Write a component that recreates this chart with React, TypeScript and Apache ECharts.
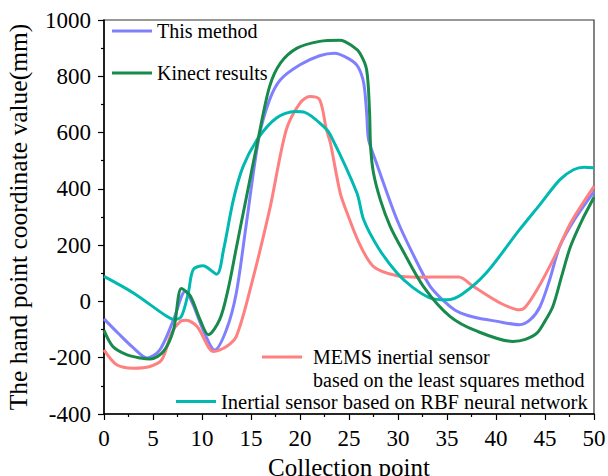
import React, { useEffect, useRef } from "react";
import * as echarts from "echarts";

const blueX = [0, 1.5, 3, 4.4, 5.7, 7.1, 8.3, 9.1, 10.1, 11.3, 12.5, 13.5, 14.5, 15.8, 16.9, 18, 20, 22, 23.5, 25, 25.9, 26.5, 26.8, 27.0, 27.8, 29.9, 31.5, 33.3, 35.3, 36.3, 38, 40, 42.4, 43.5, 44.5, 45.5, 46.5, 48, 50];
const blueY = [-62, -115, -165, -201, -172, -65, 36, -12, -100, -173, -100, 30, 270, 581, 717, 788, 841, 873, 882, 862, 835, 776, 670, 575, 492, 290, 170, 53, -18, -40, -58, -70, -83, -65, -18, 80, 195, 290, 390];

const greenX = [0, 0.9, 2.3, 3.7, 4.7, 6.06, 7.1, 7.9, 8.8, 9.8, 10.65, 11.8, 12.65, 13.5, 14.5, 15.75, 16.9, 18, 19.7, 22, 24.1, 25.4, 26.1, 26.8, 27.1, 27.2, 27.5, 28.2, 29.2, 30.5, 32.6, 35.3, 38, 41.7, 43, 44.2, 45, 45.8, 46.7, 47.6, 48.8, 50];
const greenY = [-103, -160, -189, -201, -205, -178, -100, 46, 20, -65, -118, -65, 41, 190, 365, 581, 764, 847, 900, 924, 928, 906, 883, 823, 670, 551, 456, 361, 267, 180, 53, -53, -105, -142, -135, -112, -70, -18, 90, 195, 290, 370];

const redX = [0, 1.3, 3, 4.7, 5.9, 6.9, 7.8, 8.4, 9.5, 11.2, 12.5, 13.5, 14.9, 16.9, 18.6, 20, 21, 22, 22.7, 23.1, 24.1, 24.8, 26, 27.5, 29.9, 32, 35.3, 36.2, 37.7, 40.4, 42.4, 43, 44.2, 46, 47.6, 50];
const redY = [-172, -225, -237, -231, -207, -112, -71, -67, -89, -178, -160, -124, 41, 326, 610, 705, 728, 717, 610, 563, 386, 315, 210, 124, 91, 86, 87, 87, 53, -5, -30, -20, 42, 160, 278, 409];

const tealX = [0, 3, 6.4, 7.2, 7.9, 8.6, 9.1, 10.1, 11.5, 12.2, 13.2, 14.2, 15.75, 17.6, 19.5, 20.5, 22.4, 23.1, 25.8, 26.5, 28, 29.9, 31.5, 33.3, 35, 36.5, 39, 42.4, 44.5, 46.5, 47.9, 49, 50];
const tealY = [89, 30, -53, -65, -53, 30, 113, 127, 97, 184, 361, 480, 581, 652, 675, 672, 622, 592, 386, 290, 190, 101, 50, 12, 6, 25, 101, 255, 345, 432, 468, 477, 475];

const seriesNames = [
  "This method",
  "Kinect results",
  "MEMS inertial sensor based on the least squares method",
  "Inertial sensor based on RBF neural network",
];
const colors = ["#8080ff", "#178a4c", "#ff8080", "#00b9b0"];

const zip = (xs: number[], ys: number[]) => xs.map((x, i) => [x, ys[i]]);

const FONT = "Liberation Serif";

export default function App() {
  const ref = useRef<HTMLDivElement>(null);
  useEffect(() => {
    const chart = echarts.init(ref.current!, null, { renderer: "svg" });
    const datas = [zip(blueX, blueY), zip(greenX, greenY), zip(redX, redY), zip(tealX, tealY)];
    const legendBase = {
      orient: "vertical" as const,
      padding: 0,
      icon: "rect",
      itemWidth: 40,
      itemHeight: 3,
      selectedMode: false,
      textStyle: { fontFamily: FONT, fontSize: 20, color: "#000" },
    };
    chart.setOption({
      animation: false,
      backgroundColor: "#fff",
      grid: {
        left: 104,
        top: 20,
        width: 490,
        height: 394,
        containLabel: false,
        outerBoundsMode: "none",
        show: true,
        borderColor: "#333",
        borderWidth: 1.2,
        backgroundColor: "transparent",
      },
      legend: [
        { ...legendBase, data: [seriesNames[0]], left: 112, top: 21 },
        { ...legendBase, data: [seriesNames[1]], left: 112, top: 63 },
        {
          ...legendBase,
          data: [seriesNames[2]],
          left: 262,
          top: 324,
          formatter: () => "{e| }\n{a|MEMS inertial sensor}\n{a|based on the least squares method}",
          textStyle: {
            fontFamily: FONT,
            fontSize: 20,
            color: "#000",
            rich: {
              e: { fontFamily: FONT, fontSize: 20, lineHeight: 23, padding: [0, 0, 0, 6] },
              a: { fontFamily: FONT, fontSize: 20, lineHeight: 23, color: "#000", padding: [0, 0, 0, 6] },
            },
          },
        },
        { ...legendBase, data: [seriesNames[3]], left: 176, top: 391, textStyle: { fontFamily: FONT, fontSize: 20.5, color: "#000" } },
      ],
      xAxis: {
        type: "value",
        min: 0,
        max: 50,
        interval: 5,
        name: "Collection point",
        nameLocation: "middle",
        nameGap: 38,
        nameTextStyle: { fontFamily: FONT, fontSize: 25, color: "#000" },
        axisLine: { onZero: false, lineStyle: { color: "#000", width: 1.5 } },
        axisTick: { length: 6, lineStyle: { color: "#000", width: 1.2 } },
        minorTick: { show: true, splitNumber: 2, length: 3, lineStyle: { color: "#000", width: 1.2 } },
        axisLabel: { fontFamily: FONT, fontSize: 23, color: "#000", margin: 13 },
        splitLine: { show: false },
      },
      yAxis: {
        type: "value",
        min: -400,
        max: 1000,
        interval: 200,
        name: "The hand point coordinate value(mm)",
        nameLocation: "middle",
        nameGap: 73,
        nameTextStyle: { fontFamily: FONT, fontSize: 25.5, color: "#000" },
        axisLine: { show: true, onZero: false, lineStyle: { color: "#000", width: 1.5 } },
        axisTick: { show: true, length: 6, lineStyle: { color: "#000", width: 1.2 } },
        minorTick: { show: true, splitNumber: 2, length: 3, lineStyle: { color: "#000", width: 1.2 } },
        axisLabel: { fontFamily: FONT, fontSize: 23, color: "#000", margin: 13, formatter: (v: number) => String(v) },
        splitLine: { show: false },
      },
      series: seriesNames.map((name, i) => ({
        name,
        type: "line",
        data: datas[i],
        showSymbol: false,
        symbol: "none",
        smooth: 0.3,
        color: colors[i],
        lineStyle: { color: colors[i], width: 3 },
        z: i === 1 ? 3 : 2,
      })),
    });
    return () => chart.dispose();
  }, []);
  return <div ref={ref} style={{ position: "absolute", left: 0, top: 0, width: 608, height: 476 }} />;
}
